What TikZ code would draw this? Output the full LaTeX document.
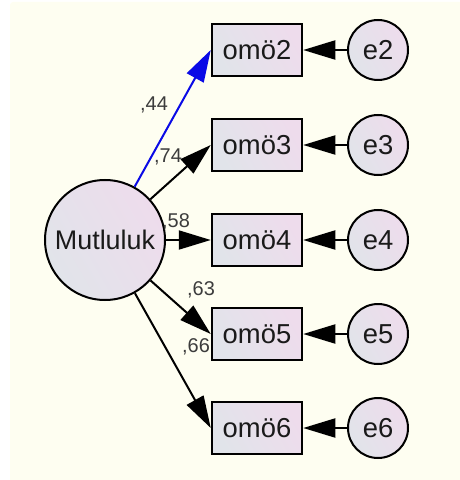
\documentclass[tikz,border=0pt]{standalone}
\usepackage{fontspec}
\setmainfont{Liberation Sans}
\usetikzlibrary{arrows.meta}
\definecolor{paper}{HTML}{FEFEF1}
\definecolor{shadeA}{HTML}{E1E4EA}
\definecolor{shadeB}{HTML}{EEDCEC}
\definecolor{ink}{HTML}{1A1A1A}
\definecolor{pathblue}{HTML}{0A0AE6}
\tikzset{
  x=1bp, y=-1bp,
  shaded/.style={left color=shadeA, right color=shadeB, shading angle=120},
  latent/.style={circle, draw=black, line width=2bp, shaded, minimum size=120bp, inner sep=0pt,
                 font=\fontsize{27}{27}\selectfont, text=ink},
  observed/.style={rectangle, draw=black, line width=2.5bp, shaded, minimum width=90bp, minimum height=52bp,
                   inner sep=0pt, font=\fontsize{27.5}{27.5}\selectfont, text=ink},
  errnode/.style={circle, draw=black, line width=2bp, shaded, minimum size=60bp, inner sep=0pt,
                  font=\fontsize{27.5}{27.5}\selectfont, text=ink},
  path/.style={line width=2bp, -{Triangle[length=32bp,width=19bp]}},
  coef/.style={font=\fontsize{20}{20}\selectfont, text=ink!85, inner sep=0pt}
}
\begin{document}
\begin{tikzpicture}
  \useasboundingbox (0,0) rectangle (460,480);
  \fill[paper, rounded corners=3bp] (10,2) rectangle (470,490);

  % latent factor
  \node[latent] (M) at (105,240) {Mutluluk};

  % observed indicators and their error terms
  \foreach \i/\y in {2/50, 3/145, 4/240, 5/334, 6/428} {
    \node[observed] (o\i) at (257,\y) {omö\i};
    \node[errnode] (e\i) at (378,\y) {e\i};
  }

  % loadings
  \draw[path, draw=pathblue, fill=pathblue] (M) -- (o2.west);
  \foreach \i in {3,4,5,6} {
    \draw[path] (M) -- (o\i.west);
  }

  % error paths
  \foreach \i in {2,3,4,5,6} {
    \draw[path] (e\i) -- (o\i.east);
  }

  % standardized coefficients
  \node[coef] (c2) at (154,105) {,44};
  \node[coef] (c3) at (168,157) {,74};
  \node[coef] (c4) at (176,222) {,58};
  \node[coef] (c5) at (201,290) {,63};
  \node[coef] (c6) at (196,347) {,66};
\end{tikzpicture}
\end{document}
